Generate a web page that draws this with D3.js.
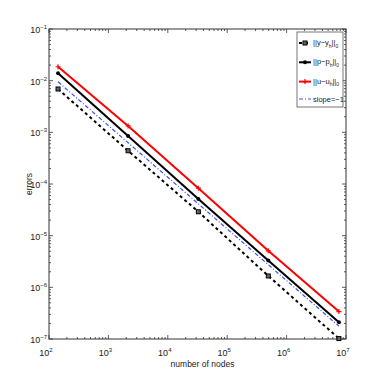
<!DOCTYPE html>
<html>
<head>
<meta charset="utf-8">
<title>errors vs nodes</title>
<style>
  body { margin: 0; background: #fff; }
  svg text { font-family: "Liberation Sans Narrow", "Liberation Sans", Arial, sans-serif; fill: #222; }
</style>
<script src="https://cdn.jsdelivr.net/npm/d3@7/dist/d3.min.js"></script>
</head>
<body>
<div id="chart"></div>
<script>
// data
var nodes = [142, 2145, 32700, 492000, 7600000];
var errY = [0.0069, 0.00044, 0.000029, 0.00000166, 0.000000102];
var errP = [0.0139, 0.00085, 0.000051, 0.0000033, 0.00000021];
var errU = [0.0186, 0.00133, 0.000083, 0.0000051, 0.00000034];
var slopeRef = [0.0095, 0.0000001775]; // slope = -1 reference, first and last node
var xTicks = [2, 3, 4, 5, 6, 7];
var yTicks = [-1, -2, -3, -4, -5, -6, -7];

var W = 382, H = 382,
    m = {top: 29, right: 36, bottom: 43, left: 49};

var svg = d3.select("#chart").append("svg")
    .attr("width", W).attr("height", H);

var x = d3.scaleLog().domain([1e2, 1e7]).range([m.left, W - m.right]);
var y = d3.scaleLog().domain([1e-7, 1e-1]).range([H - m.bottom, m.top]);

var g = svg.append("g");

// ticks (inward, on all four sides)
function minorVals(lo, hi) {
    var out = [];
    for (var e = lo; e < hi; e++)
        for (var k = 2; k <= 9; k++) out.push(k * Math.pow(10, e));
    return out;
}
var xMinor = minorVals(2, 7), yMinor = minorVals(-7, -1);
var x0 = x.range()[0], x1 = x.range()[1], y0 = y.range()[0], y1 = y.range()[1];
var tk = g.append("g").attr("stroke", "#333").attr("stroke-width", 0.8);
xTicks.forEach(function (e) {
    var px = x(Math.pow(10, e));
    tk.append("line").attr("x1", px).attr("x2", px).attr("y1", y0).attr("y2", y0 - 4);
    tk.append("line").attr("x1", px).attr("x2", px).attr("y1", y1).attr("y2", y1 + 4);
});
xMinor.forEach(function (v) {
    var px = x(v);
    tk.append("line").attr("x1", px).attr("x2", px).attr("y1", y0).attr("y2", y0 - 2);
    tk.append("line").attr("x1", px).attr("x2", px).attr("y1", y1).attr("y2", y1 + 2);
});
yTicks.forEach(function (e) {
    var py = y(Math.pow(10, e));
    tk.append("line").attr("y1", py).attr("y2", py).attr("x1", x0).attr("x2", x0 + 4);
    tk.append("line").attr("y1", py).attr("y2", py).attr("x1", x1).attr("x2", x1 - 4);
});
yMinor.forEach(function (v) {
    var py = y(v);
    tk.append("line").attr("y1", py).attr("y2", py).attr("x1", x0).attr("x2", x0 + 2);
    tk.append("line").attr("y1", py).attr("y2", py).attr("x1", x1).attr("x2", x1 - 2);
});

// frame
g.append("rect").attr("x", x0).attr("y", y1).attr("width", x1 - x0).attr("height", y0 - y1)
    .attr("fill", "none").attr("stroke", "#333").attr("stroke-width", 1);

// tick labels 10^e
function powLabel(sel, e) {
    sel.append("tspan").text("10");
    sel.append("tspan").attr("dy", -4).attr("font-size", 6).text(e < 0 ? "\u2212" + (-e) : e);
}
xTicks.forEach(function (e) {
    var t = g.append("text").attr("x", x(Math.pow(10, e)) - 3).attr("y", y0 + 17)
        .attr("font-size", 9).attr("text-anchor", "middle");
    powLabel(t, e);
});
yTicks.forEach(function (e) {
    var t = g.append("text").attr("x", x0 - 2).attr("y", y(Math.pow(10, e)) + 4)
        .attr("font-size", 9).attr("text-anchor", "end");
    powLabel(t, e);
});

// axis titles
g.append("text").attr("x", (x0 + x1) / 2 + 5).attr("y", H - 15)
    .attr("text-anchor", "middle").attr("font-size", 8.5).text("number of nodes");
g.append("text").attr("transform", "translate(32," + ((y0 + y1) / 2) + ") rotate(-90)")
    .attr("text-anchor", "middle").attr("font-size", 8.5).text("errors");

// series
var line = d3.line().x(function (d) { return x(d[0]); }).y(function (d) { return y(d[1]); });
var series = [
    {vals: errY, color: "#000", dash: "3,3", width: 2, mark: "square"},
    {vals: errP, color: "#000", dash: null, width: 2, mark: "dot"},
    {vals: errU, color: "#f00", dash: null, width: 2, mark: "plus"}
];

// slope reference first (sits under the others)
g.append("path")
    .datum([[nodes[0], slopeRef[0]], [nodes[nodes.length - 1], slopeRef[1]]])
    .attr("d", line).attr("fill", "none").attr("stroke", "#3355ff")
    .attr("stroke-width", 1.2).attr("stroke-dasharray", "4,2,1,2");

function marker(sel, kind, color, cx, cy) {
    if (kind === "square") {
        sel.append("rect").attr("x", cx - 2).attr("y", cy - 2).attr("width", 4).attr("height", 4)
            .attr("fill", "#666").attr("stroke", "#000").attr("stroke-width", 1);
    } else if (kind === "dot") {
        sel.append("circle").attr("cx", cx).attr("cy", cy).attr("r", 2).attr("fill", color);
    } else {
        sel.append("path").attr("d", "M" + (cx - 2.5) + "," + cy + "h5M" + cx + "," + (cy - 2.5) + "v5")
            .attr("stroke", color).attr("stroke-width", 1.2);
    }
}

series.forEach(function (s) {
    var pts = nodes.map(function (n, i) { return [n, s.vals[i]]; });
    g.append("path").datum(pts).attr("d", line).attr("fill", "none")
        .attr("stroke", s.color).attr("stroke-width", s.width)
        .attr("stroke-dasharray", s.dash);
    pts.forEach(function (p) { marker(g, s.mark, s.color, x(p[0]), y(p[1])); });
});

// legend
var lg = g.append("g");
lg.append("rect").attr("x", 297).attr("y", 32).attr("width", 46).attr("height", 75)
    .attr("fill", "#fff").attr("stroke", "#555").attr("stroke-width", 0.8);
var legendItems = [
    {s: series[0], v: "y"},
    {s: series[1], v: "p"},
    {s: series[2], v: "u"}
];
legendItems.forEach(function (it, i) {
    var ly = 43 + i * 19.3;
    lg.append("line").attr("x1", 299).attr("x2", 311).attr("y1", ly).attr("y2", ly)
        .attr("stroke", it.s.color).attr("stroke-width", it.s.width).attr("stroke-dasharray", it.s.dash);
    marker(lg, it.s.mark, it.s.color, 305, ly);
    var t = lg.append("text").attr("x", 313).attr("y", ly + 2).attr("font-size", 7.5);
    t.append("tspan").text("||" + it.v + "\u2212" + it.v);
    t.append("tspan").attr("dy", 2.5).attr("font-size", 5).text("h");
    t.append("tspan").attr("dy", -2.5).text("||");
    t.append("tspan").attr("dy", 2.5).attr("font-size", 5).text("0");
});
var sy = 99;
lg.append("line").attr("x1", 299).attr("x2", 311).attr("y1", sy).attr("y2", sy)
    .attr("stroke", "#3355ff").attr("stroke-width", 1.2).attr("stroke-dasharray", "4,2,1,2");
lg.append("text").attr("x", 313).attr("y", sy + 3).attr("font-size", 7.5).text("slope=\u22121");
</script>
</body>
</html>
